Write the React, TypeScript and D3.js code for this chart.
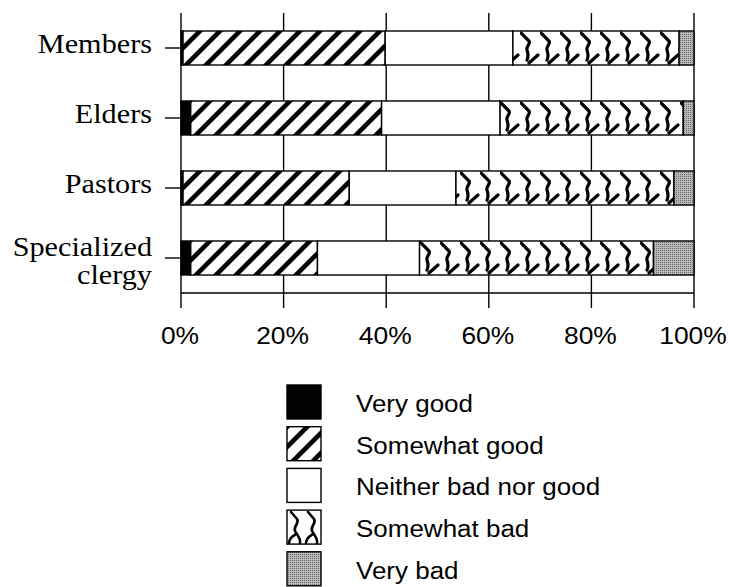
import React from "react";
import * as d3 from "d3";

const categories = ["Members", "Elders", "Pastors", "Specialized clergy"];
const seriesNames = ["Very good", "Somewhat good", "Neither bad nor good", "Somewhat bad", "Very bad"];
const veryGood = [0.4, 1.9, 0.4, 1.9];
const somewhatGood = [39.4, 37.2, 32.4, 24.7];
const neither = [24.9, 23.1, 20.8, 19.9];
const somewhatBad = [32.4, 35.7, 42.5, 45.6];
const veryBad = [2.9, 2.1, 3.9, 7.9];
const xTicks = [0, 20, 40, 60, 80, 100];

const W = 731, H = 587;
const m = { left: 181, right: 694, top: 13, bottom: 293 };

const fills = ["#000", "url(#hatch)", "#fff", "url(#chain)", "url(#stipple)"];
const legendFills = ["#000", "url(#hatchL)", "#fff", "url(#chainL)", "url(#stipple)"];

export default function App() {
  const rows = categories.map((c, i) => ({
    cat: c,
    s0: veryGood[i], s1: somewhatGood[i], s2: neither[i], s3: somewhatBad[i], s4: veryBad[i],
  }));
  const keys = ["s0", "s1", "s2", "s3", "s4"];
  const stacked = d3.stack<any>().keys(keys)(rows);
  const x = d3.scaleLinear().domain([0, 100]).range([m.left, m.right]);
  const y = d3.scaleBand().domain(categories).range([m.top, m.bottom]).paddingInner(0.514).paddingOuter(0.257);
  const bw = y.bandwidth();
  const firstTop = y(categories[0])!;

  const chainPath = "M1,2 L9,10 C11,13 6,15 7,19 C8,22 9,25 7,29 M9,32 L18,24";
  const chainLPath = "M4,2 L10,9 C13,13 6,16 8,21 C10,25 14,28 13,33 M2,33 C2,28 6,26 9,24";

  return (
    <svg width={W} height={H} style={{ position: "absolute", left: 0, top: 0, background: "#fff" }}>
      <defs>
        <pattern id="hatch" patternUnits="userSpaceOnUse" width={20} height={20} x={0} y={firstTop}>
          <rect width={20} height={20} fill="#fff" />
          <path d="M-5,5 L5,-5 M0,20 L20,0 M15,25 L25,15" stroke="#000" strokeWidth={4.6} />
        </pattern>
        <pattern id="hatchL" patternUnits="userSpaceOnUse" width={20} height={20} x={287} y={427}>
          <rect width={20} height={20} fill="#fff" />
          <path d="M-5,5 L5,-5 M0,20 L20,0 M15,25 L25,15" stroke="#000" strokeWidth={4.6} />
        </pattern>
        <pattern id="chain" patternUnits="userSpaceOnUse" width={20} height={y.step()} x={0} y={firstTop}>
          <rect width={20} height={y.step()} fill="#fff" />
          <path d={chainPath} stroke="#000" strokeWidth={3.2} fill="none" strokeLinecap="round" />
        </pattern>
        <pattern id="chainL" patternUnits="userSpaceOnUse" width={17} height={60} x={287} y={510}>
          <rect width={17} height={60} fill="#fff" />
          <path d={chainLPath} stroke="#000" strokeWidth={2.6} fill="none" strokeLinecap="round" />
        </pattern>
        <pattern id="stipple" patternUnits="userSpaceOnUse" width={2} height={2}>
          <rect width={2} height={2} fill="#b8b8b8" />
          <rect x={0} y={0} width={1} height={1} fill="#6e6e6e" />
        </pattern>
      </defs>

      {/* vertical gridlines */}
      {xTicks.map((t) => (
        <line key={"g" + t} x1={x(t)} x2={x(t)} y1={m.top} y2={m.bottom + 15} stroke="#000" strokeWidth={1.4} />
      ))}
      {/* x axis */}
      <line x1={m.left} x2={m.right} y1={m.bottom} y2={m.bottom} stroke="#000" strokeWidth={1.4} />

      {/* bars */}
      {stacked.map((s, si) => (
        <g key={si} fill={fills[si]}>
          {s.map((d, i) => (
            <rect key={i} x={x(d[0])} y={y(categories[i])!} width={x(d[1]) - x(d[0])} height={bw}
              stroke="#000" strokeWidth={1.4} />
          ))}
        </g>
      ))}

      {/* y ticks */}
      {categories.map((c) => (
        <line key={"yt" + c} x1={m.left - 16} x2={m.left} y1={y(c)! + bw / 2} y2={y(c)! + bw / 2} stroke="#000" strokeWidth={1.4} />
      ))}
      {/* y labels */}
      {categories.map((c) => {
        const cy = y(c)! + bw / 2;
        const words = c === "Specialized clergy" ? ["Specialized", "clergy"] : [c];
        return words.map((w, k) => (
          <text key={c + k} transform={`translate(152,${words.length === 1 ? cy + 5 : cy - 2 + k * 28}) scale(1.12,1)`}
            textAnchor="end" fontFamily="'Liberation Serif', 'Times New Roman', serif" fontSize={27} fill="#000">
            {w}
          </text>
        ));
      })}

      {/* x labels */}
      {xTicks.map((t) => (
        <text key={"xl" + t} transform={`translate(${x(t) - 1},344) scale(1.1,1)`} textAnchor="middle"
          fontFamily="'Liberation Sans', Arial, sans-serif" fontSize={24} fill="#000">
          {t + "%"}
        </text>
      ))}

      {/* legend */}
      {seriesNames.map((n, i) => {
        const ly = 385 + i * 41.7;
        return (
          <g key={n}>
            <rect x={287} y={ly} width={34} height={34} fill={legendFills[i]} stroke="#000" strokeWidth={1.4} />
            <text transform={`translate(356,${ly + 27}) scale(1.13,1)`} fontFamily="'Liberation Sans', Arial, sans-serif"
              fontSize={23} fill="#000">{n}</text>
          </g>
        );
      })}
    </svg>
  );
}
